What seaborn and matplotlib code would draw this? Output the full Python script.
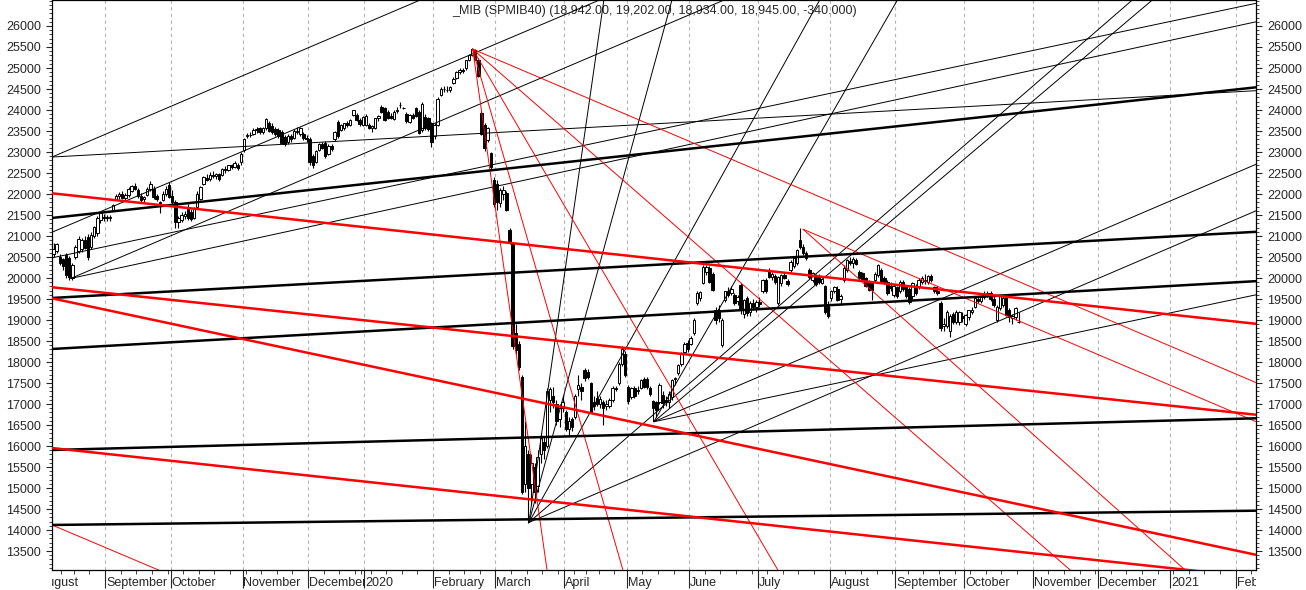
import numpy as np
import pandas as pd
import matplotlib
matplotlib.use("Agg")
import matplotlib.pyplot as plt
from matplotlib.transforms import Bbox, TransformedBbox, blended_transform_factory
import seaborn as sns

# ── DATI ──────────────────────────────────────────────────────────────────────
TITOLO = "_MIB (SPMIB40) (18,942.00, 19,202.00, 18,934.00, 18,945.00, -340.000)"
INIZIO = "2019-08-07"
FESTIVI = ["2019-08-15", "2019-12-24", "2019-12-25", "2019-12-26", "2019-12-31",
           "2020-01-01", "2020-04-10", "2020-04-13", "2020-05-01"]
MESI = ["January", "February", "March", "April", "May", "June", "July",
        "August", "September", "October", "November", "December"]

OPEN = [
    # ago 2019
    20560, 20640, 20500, 20450, 20540, 20480, 20000, 20500, 20650, 20700, 20900, 20980, 20750, 21000, 21060, 21380, 21450,
    # set
    21430, 21420, 21620, 21890, 21950, 22010, 21900, 21980, 22080, 22190, 22090, 21950, 21870, 21980, 22130, 22120, 21950, 21800, 21860, 21990, 22210,
    # ott
    21960, 21800, 21340, 21380, 21480, 21700, 21580, 21440, 21700, 21880, 22250, 22380, 22360, 22460, 22420, 22480, 22450, 22590, 22580, 22680, 22650, 22700, 22760,
    # nov
    23050, 23370, 23400, 23440, 23520, 23560, 23470, 23560, 23690, 23620, 23540, 23530, 23480, 23360, 23250, 23380, 23330, 23510, 23420, 23440, 23330,
    # dic
    23300, 22900, 22770, 23050, 23180, 23220, 22960, 23140, 23300, 23720, 23530, 23560, 23680, 23650, 23880, 23880, 23760, 23650,
    # gen 2020
    23650, 23640, 23560, 23570, 23800, 24080, 24040, 23960, 23850, 23780, 23980, 24110, 24050, 23900, 23720, 23880, 24040, 23960, 23520, 23840, 23810, 23680,
    # feb
    23370, 23640, 24360, 24490, 24480, 24470, 24640, 24760, 24900, 24950, 24990, 25190, 25310, 25430, 25180, 23920, 23640, 23280, 22970, 22330,
    # mar
    22250, 21780, 22000, 22020, 21140, 20830, 18680, 18440, 17650, 15100, 15800, 15100, 15500, 15050, 15800, 16100, 16000, 17100, 17200, 17000, 16650, 16900,
    # apr
    16800, 16400, 16650, 16700, 17350, 17400, 17800, 17760, 17490, 17050, 17150, 17000, 17050, 16950, 16950, 17100, 17380, 17500, 17950, 18200,
    # mag
    17410, 17170, 17370, 17300, 17380, 17600, 17600, 17370, 17060, 17050, 17050, 17210, 17100, 17050, 17170, 17600, 17750, 17950, 18250, 18450,
    # giu
    18440, 18680, 19400, 19520, 19870, 20150, 20230, 20100, 19240, 19250, 18400, 19480, 19700, 19650, 19600, 19450, 19830, 19150, 19520, 19180, 19400, 19300,
    # lug
    19440, 19700, 19950, 20190, 20030, 20050, 19400, 19880, 20070, 19920, 20190, 20280, 20350, 20900, 20750, 20590, 20190, 19950, 20060, 20050, 19880, 19800, 19380,
    # ago
    19520, 19700, 19750, 19500, 19950, 20200, 20400, 20350, 20440, 20150, 20110, 19990, 19900, 19870, 19960, 20070, 20190, 19990, 19910, 19800, 19600,
    # set
    19790, 19700, 19900, 19800, 19750, 19560, 19800, 19800, 19900, 19950, 19900, 20050, 19780, 19700, 19400, 18850, 18850, 18730, 19150, 18950, 18950, 19100,
    # ott
    18900, 19080, 19200, 19320, 19500, 19450, 19550, 19620, 19640, 19500, 19000, 19280, 19360, 19520, 19240, 19050, 19080, 18942,
]
HIGH = [
    20830, 20830, 20560, 20480, 20600, 20520, 20350, 20780, 21000, 20960, 21000, 21050, 21100, 21240, 21480, 21570, 21520,
    21500, 21500, 21760, 22000, 22050, 22080, 22020, 22160, 22220, 22260, 22140, 22030, 21960, 22160, 22300, 22180, 22000, 21830, 22060, 22180, 22290,
    22100, 21860, 21480, 21560, 21600, 21760, 21640, 21700, 22060, 22180, 22430, 22470, 22520, 22540, 22500, 22500, 22620, 22660, 22700, 22720, 22780, 22740, 22990,
    23340, 23450, 23470, 23560, 23600, 23600, 23590, 23820, 23750, 23680, 23600, 23580, 23520, 23400, 23420, 23430, 23540, 23600, 23600, 23470, 23400,
    23360, 22950, 23050, 23220, 23240, 23260, 23180, 23200, 23500, 23760, 23670, 23700, 23740, 23780, 24010, 23920, 23800, 23860,
    23900, 23700, 23650, 23820, 23880, 24110, 24070, 24000, 23920, 23990, 24060, 24180, 24070, 23950, 23900, 23940, 24080, 24000, 24200, 23900, 23840, 23720,
    23700, 24300, 24540, 24560, 24560, 24580, 24780, 24930, 25000, 25010, 25200, 25330, 25480, 25460, 25230, 23980, 23700, 23600, 23000, 22400,
    22330, 22150, 22200, 22080, 21200, 20830, 18900, 18500, 17700, 16600, 15900, 15800, 15600, 15900, 16300, 16250, 17380, 17400, 17400, 17100, 17000, 17200,
    16850, 16700, 16700, 17250, 17700, 17500, 17850, 17830, 17520, 17200, 17300, 17200, 17100, 17100, 17150, 17420, 17420, 18000, 18370, 18260,
    17450, 17400, 17420, 17420, 17600, 17650, 17650, 17420, 17100, 17080, 17500, 17300, 17200, 17300, 17600, 17650, 17950, 18250, 18470, 18520,
    18620, 19050, 19680, 19700, 20300, 20320, 20280, 20150, 19300, 19350, 19050, 19700, 19780, 19800, 19650, 19600, 19880, 19500, 19560, 19450, 19500, 19480,
    19550, 19980, 20000, 20250, 20150, 20100, 20050, 20100, 20120, 19980, 20420, 20500, 20700, 21180, 20800, 20650, 20250, 20150, 20100, 20100, 20000, 19830, 19450,
    19720, 19820, 19800, 19620, 20300, 20450, 20500, 20500, 20480, 20200, 20150, 20020, 19950, 19900, 20150, 20330, 20250, 20050, 19950, 19900, 19850,
    19820, 19950, 19950, 19820, 19780, 19900, 19850, 20000, 20050, 20100, 20080, 20100, 19820, 19800, 19450, 19050, 19230, 19150, 19200, 19250, 19220, 19200,
    19150, 19250, 19300, 19550, 19580, 19600, 19700, 19700, 19680, 19560, 19350, 19600, 19560, 19560, 19280, 19150, 19320, 19202,
]
LOW = [
    20500, 20600, 20300, 20200, 19990, 19960, 19950, 20450, 20600, 20620, 20680, 20430, 20700, 20950, 21000, 21320, 21360,
    21350, 21350, 21600, 21850, 21880, 21870, 21860, 21940, 22040, 22090, 21900, 21820, 21800, 21950, 22080, 21880, 21840, 21540, 21830, 21960, 21900,
    21760, 21180, 21180, 21330, 21400, 21380, 21350, 21400, 21680, 21850, 22220, 22300, 22320, 22380, 22350, 22320, 22420, 22500, 22540, 22600, 22620, 22560, 22700,
    23000, 23330, 23350, 23400, 23460, 23420, 23440, 23520, 23470, 23420, 23380, 23340, 23180, 23140, 23200, 23250, 23300, 23440, 23390, 23280, 23250,
    22700, 22610, 22740, 23020, 23060, 22850, 22930, 23020, 23270, 23340, 23500, 23520, 23600, 23620, 23860, 23740, 23620, 23610,
    23620, 23540, 23480, 23540, 23740, 23920, 23740, 23790, 23780, 23760, 23930, 24050, 24020, 23700, 23680, 23780, 23840, 23420, 23480, 23520, 23510, 23110,
    23300, 23620, 24330, 24420, 24420, 24420, 24610, 24730, 24850, 24880, 24960, 25160, 25280, 25180, 24780, 23400, 23030, 23250, 22600, 21700,
    21620, 21700, 21850, 21600, 20800, 18300, 18200, 17800, 14850, 14900, 14160, 14600, 14650, 14900, 15600, 15700, 15950, 16800, 16900, 16500, 16450, 16800,
    16350, 16250, 16350, 16650, 17200, 17100, 17550, 17600, 16780, 16850, 16950, 16900, 16500, 16850, 16900, 17050, 17300, 17450, 17900, 17650,
    17000, 17120, 17150, 17250, 17350, 17380, 17350, 17200, 16600, 16680, 17000, 16900, 16950, 16900, 17100, 17450, 17700, 17900, 18200, 18250,
    18400, 18650, 19350, 19450, 19850, 20080, 19880, 19680, 18900, 18950, 18350, 19420, 19550, 19600, 19350, 19350, 19150, 19050, 19100, 19100, 19250, 19200,
    19300, 19650, 19650, 20000, 19950, 19850, 19350, 19800, 19980, 19800, 20150, 20250, 20300, 20700, 20550, 20420, 19980, 19900, 19800, 19850, 19850, 19150, 19050,
    19450, 19650, 19450, 19350, 19900, 20150, 20300, 20250, 20300, 19950, 19920, 19780, 19700, 19480, 19900, 20020, 19900, 19850, 19600, 19700, 19550,
    19520, 19650, 19700, 19520, 19380, 19500, 19600, 19750, 19850, 19850, 19850, 19900, 19650, 19600, 18750, 18750, 18800, 18600, 18900, 18900, 18880, 18950,
    18850, 19000, 19150, 19280, 19400, 19400, 19500, 19550, 19450, 19300, 18950, 19250, 19300, 19100, 18960, 18900, 19000, 18934,
]
CLOSE = [
    20700, 20800, 20350, 20290, 20070, 20030, 20300, 20740, 20940, 20900, 20720, 20510, 21020, 21220, 21440, 21540, 21430,
    21440, 21460, 21730, 21960, 22010, 21900, 21980, 22120, 22190, 22130, 21950, 21860, 21930, 22130, 22250, 21920, 21880, 21770, 22010, 22120, 21940,
    21800, 21340, 21430, 21500, 21520, 21420, 21400, 21660, 22010, 22160, 22400, 22330, 22460, 22420, 22480, 22360, 22590, 22560, 22680, 22640, 22740, 22610, 22950,
    23320, 23400, 23410, 23520, 23550, 23470, 23560, 23790, 23510, 23470, 23420, 23370, 23220, 23200, 23380, 23300, 23510, 23470, 23560, 23330, 23300,
    22760, 22700, 23030, 23190, 23100, 22900, 23150, 23060, 23480, 23380, 23640, 23680, 23640, 23760, 23990, 23770, 23660, 23840,
    23860, 23560, 23620, 23800, 23850, 23960, 23770, 23810, 23820, 23960, 24010, 24120, 24040, 23730, 23870, 23800, 23860, 23450, 24150, 23560, 23540, 23240,
    23640, 24270, 24510, 24500, 24470, 24550, 24750, 24910, 24960, 24920, 25180, 25300, 25460, 25200, 24810, 23430, 23090, 23580, 22640, 21770,
    21800, 22090, 22100, 21620, 20830, 18370, 18290, 17890, 14910, 16000, 15000, 15600, 14900, 15750, 16200, 15900, 17300, 17350, 17050, 16600, 16900, 17050,
    16400, 16600, 16450, 17200, 17450, 17300, 17620, 17650, 16820, 16950, 17000, 17120, 16900, 17000, 17100, 17380, 17350, 17950, 18300, 17700,
    17060, 17370, 17180, 17330, 17560, 17410, 17400, 17250, 16900, 16860, 17450, 17020, 17050, 17250, 17570, 17620, 17920, 18220, 18430, 18300,
    18560, 19000, 19640, 19670, 20270, 20270, 19910, 19720, 19000, 19050, 19000, 19680, 19600, 19750, 19400, 19550, 19240, 19480, 19160, 19400, 19300, 19420,
    19380, 19950, 19680, 20030, 20100, 19900, 20030, 20070, 20000, 19850, 20390, 20470, 20660, 20750, 20590, 20470, 20030, 20110, 19850, 19900, 19980, 19200, 19100,
    19680, 19780, 19480, 19580, 20250, 20420, 20350, 20450, 20330, 19990, 19950, 19800, 19720, 19720, 20100, 20300, 19920, 19870, 19640, 19760, 19800,
    19570, 19900, 19750, 19560, 19420, 19870, 19650, 19950, 19990, 19920, 20050, 19950, 19700, 19650, 18800, 18900, 19200, 19100, 18960, 19200, 19180, 19050,
    19120, 19230, 19250, 19520, 19450, 19550, 19620, 19640, 19500, 19350, 19320, 19560, 19520, 19120, 19080, 19100, 19285, 18945,
]

# linee di tendenza a tutta larghezza: valore al bordo sinistro / destro
NERO_SPESSO_SX = [21430, 19525, 18310, 15905, 14120]
NERO_SPESSO_DX = [24540, 21100, 19925, 16660, 14460]
ROSSO_SPESSO_SX = [22017, 19780, 19516, 15952]
ROSSO_SPESSO_DX = [18910, 16745, 13410, 12875]

# linee sottili: punto di partenza (giorno, valore) e punto di passaggio
NERO_SOTTILE = [
    (-0.5, 22880, 385, 24460),
    (-0.5, 22880, 117.4, 26619),
    (5.5, 19990, 385, 26100),
    (-0.5, 20480, 385, 26540),
    # canale rialzista 2019
    (-0.5, 21090, 127.0, 25111),
    (5.5, 19990, 127.0, 23840),
    # ventaglio dal minimo di marzo
    (152.2, 14180, 176.2, 26619),
    (152.2, 14180, 198.0, 26619),
    (152.2, 14180, 245.3, 26619),
    (152.2, 14180, 345.4, 26619),
    (152.2, 14180, 385, 21600),
    # ventaglio dal minimo di maggio
    (192.2, 16578, 270.2, 26619),
    (192.2, 16578, 351.8, 26619),
    (192.2, 16578, 385, 22707),
    (192.2, 16578, 385, 19600),
]
ROSSO_SOTTILE = [
    (-0.5, 14120, 33.6, 13048),
    # ventaglio dal massimo di febbraio
    (134.2, 25450, 158.0, 13048),
    (134.2, 25450, 182.3, 13048),
    (134.2, 25450, 231.9, 13048),
    (134.2, 25450, 325.5, 13048),
    (134.2, 25450, 385, 17510),
    # dal massimo di luglio
    (240.0, 21160, 385, 16580),
    (240.0, 21160, 362.3, 13048),
]

YMIN, YMAX = 13048, 26619
X_SX, X_DX = -0.5, 385

# ── CALENDARIO ────────────────────────────────────────────────────────────────
festivi = pd.to_datetime(FESTIVI)
passato = pd.bdate_range("2019-08-01", "2020-10-26")
passato = passato[~passato.isin(festivi)]
futuro = pd.bdate_range("2020-10-27", periods=90)
giorni = passato.append(futuro)
offset = int(np.where(giorni == pd.Timestamp(INIZIO))[0][0])
xpos = np.arange(len(giorni)) - offset

df = pd.DataFrame({"open": OPEN, "high": HIGH, "low": LOW, "close": CLOSE})
assert len(df) == len(passato) - offset, (len(df), len(passato) - offset)
df["x"] = np.arange(len(df))

# ── STILE ─────────────────────────────────────────────────────────────────────
sns.set_style("white")
plt.rcParams["font.family"] = ["Liberation Sans", "DejaVu Sans"]
plt.rcParams["font.size"] = 9

fig = plt.figure(figsize=(13.06, 5.90), dpi=100)
ax = fig.add_axes([52 / 1306, 20 / 590, 1204 / 1306, 570 / 590])

# inizio di ogni mese
mesi_idx = [0] + [i for i in range(1, len(giorni)) if giorni[i].month != giorni[i - 1].month]
mesi_x = [xpos[i] - 0.5 for i in mesi_idx]
for x in mesi_x:
    ax.axvline(x, color="#b4b4b4", lw=0.8, ls=(0, (3, 3)), zorder=0)

# ── CANDELE ───────────────────────────────────────────────────────────────────
ax.vlines(df["x"], df["low"], df["high"], color="black", lw=0.8, zorder=3)
su = df["close"] >= df["open"]
corpo = (df["close"] - df["open"]).abs().clip(lower=12)
base = df[["open", "close"]].min(axis=1)
ax.bar(df["x"][su], corpo[su], bottom=base[su], width=0.78,
       color="white", edgecolor="black", linewidth=0.7, zorder=4)
ax.bar(df["x"][~su], corpo[~su], bottom=base[~su], width=0.78,
       color="black", edgecolor="black", linewidth=0.7, zorder=4)

# ── LINEE DI TENDENZA ─────────────────────────────────────────────────────────
righe = []
n = 0
for sx, dx in zip(NERO_SPESSO_SX, NERO_SPESSO_DX):
    righe += [(n, "nero_spesso", X_SX, sx), (n, "nero_spesso", X_DX, dx)]
    n += 1
for sx, dx in zip(ROSSO_SPESSO_SX, ROSSO_SPESSO_DX):
    righe += [(n, "rosso_spesso", X_SX, sx), (n, "rosso_spesso", X_DX, dx)]
    n += 1
for tipo, elenco in [("nero_sottile", NERO_SOTTILE), ("rosso_sottile", ROSSO_SOTTILE)]:
    for x1, v1, x2, v2 in elenco:
        pend = (v2 - v1) / (x2 - x1)
        righe += [(n, tipo, x1, v1), (n, tipo, X_DX, v1 + pend * (X_DX - x1))]
        n += 1
linee = pd.DataFrame(righe, columns=["id", "tipo", "x", "y"])

stili = {"nero_sottile": ("black", 0.7), "rosso_sottile": ("red", 0.7),
         "nero_spesso": ("black", 1.8), "rosso_spesso": ("red", 1.8)}
for tipo, (col, lw) in stili.items():
    sns.lineplot(data=linee[linee["tipo"] == tipo], x="x", y="y", units="id",
                 estimator=None, sort=False, color=col, lw=lw, ax=ax, zorder=5)

# ── ASSI ──────────────────────────────────────────────────────────────────────
ax.set_xlabel("")
ax.set_ylabel("")
ax.set_yticks(np.arange(13500, 26001, 500))
ax.set_yticks(np.arange(13100, 26601, 100), minor=True)
ax.tick_params(axis="y", which="major", length=4, width=0.8, direction="out",
               left=True, right=True, labelleft=True, labelright=True, pad=4)
ax.tick_params(axis="y", which="minor", length=2, width=0.6, direction="out",
               left=True, right=True)

settimane = [xpos[i] - 0.5 for i in range(1, len(giorni))
             if giorni[i].weekday() < giorni[i - 1].weekday()]
ax.set_xticks(mesi_x)
ax.set_xticks(settimane, minor=True)
ax.tick_params(axis="x", which="major", length=13, width=0.8, direction="out",
               bottom=True, labelbottom=False)
ax.tick_params(axis="x", which="minor", length=3, width=0.6, direction="out",
               bottom=True)
ax.set_xlim(X_SX, X_DX)
ax.set_ylim(YMIN, YMAX)
for sp in ax.spines.values():
    sp.set_color("black")
    sp.set_linewidth(0.9)

# etichette dei mesi, tagliate al mese successivo come nell'originale
trasf = blended_transform_factory(ax.transData, ax.transAxes)
for k, (i, x) in enumerate(zip(mesi_idx, mesi_x)):
    g = giorni[i]
    etichetta = str(g.year) if g.month == 1 else MESI[g.month - 1]
    x_fine = mesi_x[k + 1] if k + 1 < len(mesi_x) else X_DX
    x0, x1 = max(x, X_SX), min(x_fine, X_DX)
    if x1 <= x0:
        continue
    t = ax.text(x + 0.3, -13 / 570, etichetta, transform=trasf,
                ha="left", va="center", fontsize=9, clip_on=True)
    t.set_clip_box(TransformedBbox(Bbox([[x0, -0.2], [x1, 1]]), trasf))

ax.text(0.5, 1 - 11 / 570, TITOLO, transform=ax.transAxes, ha="center",
        va="center", fontsize=9)

fig.savefig("out.png", dpi=100)
